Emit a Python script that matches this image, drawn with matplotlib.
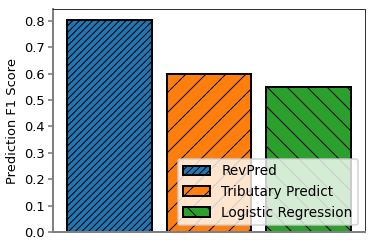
import matplotlib
matplotlib.use("Agg")
import matplotlib.pyplot as plt

labels = ["RevPred", "Tributary Predict", "Logistic Regression"]
values = [0.805, 0.60, 0.55]
colors = ["#1f77b4", "#ff7f0e", "#2ca02c"]
hatches = ["//////", "//", "\\\\"]
yticks = [0.0, 0.1, 0.2, 0.3, 0.4, 0.5, 0.6, 0.7, 0.8]

plt.rcParams["hatch.linewidth"] = 0.6
DPI = 120
fig, ax = plt.subplots(figsize=(374 / DPI, 249 / DPI), dpi=DPI)
for i, (lab, v, c, h) in enumerate(zip(labels, values, colors, hatches)):
    ax.bar(i, v, width=0.85, color=c, edgecolor="black", linewidth=1.2, hatch=h, label=lab)

ax.set_xticks([])
ax.set_yticks(yticks)
ax.set_yticklabels([f"{t:.1f}" for t in yticks])
ax.set_ylabel("Prediction F1 Score", fontsize=7.8, labelpad=3)
ax.tick_params(axis="y", labelsize=7.8, color="gray", width=1.0, length=3, pad=2)
for s in ["left", "bottom"]:
    ax.spines[s].set_color("gray")
    ax.spines[s].set_linewidth(1.2)
for s in ["top", "right"]:
    ax.spines[s].set_color("#333333")
    ax.spines[s].set_linewidth(0.6)
ax.legend(loc="lower right", fontsize=8.2)
fig.subplots_adjust(left=0.142, right=0.976, top=0.964, bottom=0.068)
fig.savefig("out.png", dpi=DPI)
